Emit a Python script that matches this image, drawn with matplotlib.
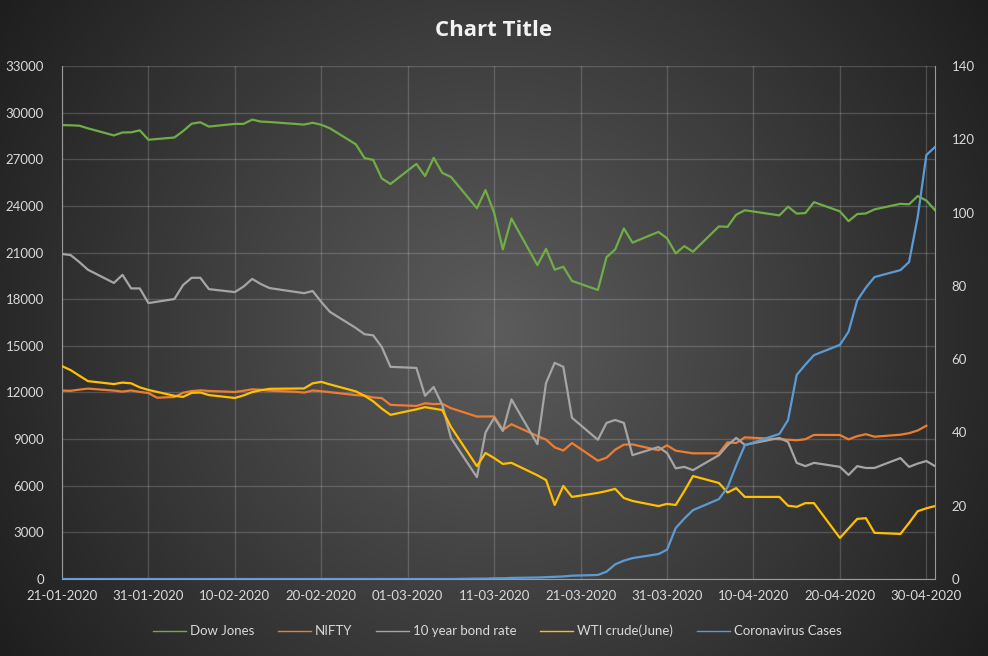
import numpy as np
import pandas as pd
import matplotlib
matplotlib.use('Agg')
import matplotlib.pyplot as plt
import matplotlib.dates as mdates
from matplotlib.colors import LinearSegmentedColormap

plt.rcParams['font.family'] = ['Lato', 'DejaVu Sans']

## US trading days (Presidents Day and Good Friday closed)
us_days = pd.bdate_range('2020-01-21', '2020-05-01')
us_days = us_days.drop(pd.to_datetime(['2020-02-17', '2020-04-10']))

dow = [29196, 29186, 29160, 28990, 28535, 28723, 28734, 28859, 28256,
       28399, 28808, 29290, 29380, 29103, 29276, 29276, 29551, 29424, 29398,
       29232, 29348, 29220, 28992, 27961, 27081, 26957, 25766, 25409,
       26703, 25917, 27091, 26121, 25864, 23851, 25018, 23553, 21200, 23185,
       20189, 21237, 19899, 20087, 19174, 18592, 20705, 21200, 22552, 21637,
       22327, 21917, 20944, 21413, 21053,
       22680, 22654, 23434, 23720, 23390, 23950, 23505, 23538, 24242,
       23650, 23019, 23475, 23516, 23775, 24134, 24102, 24634, 24346, 23724]

bond = [88.7, 88.4, 86.5, 84.4, 80.8, 83.0, 79.3, 79.3, 75.3,
        76.4, 80.2, 82.2, 82.2, 79.1, 78.3, 79.8, 81.9, 80.5, 79.4,
        78.0, 78.6, 75.6, 72.9, 68.5, 66.8, 66.5, 63.3, 57.9,
        57.6, 50.0, 52.4, 47.5, 38.5, 27.8, 40.0, 44.0, 40.4, 49.0,
        36.8, 53.5, 59.0, 57.9, 44.0, 38.0, 42.6, 43.4, 42.6, 33.8,
        36.0, 34.4, 30.2, 30.6, 29.7,
        33.8, 36.5, 38.5, 36.6, 38.5, 37.4, 31.7, 30.8, 31.7,
        30.6, 28.4, 30.8, 30.3, 30.3, 33.0, 30.6, 31.5, 32.2, 30.8]

wti = [58.1, 57.0, 55.5, 54.0, 53.2, 53.6, 53.4, 52.3, 51.6,
       50.0, 49.7, 50.8, 50.9, 50.2, 49.4, 50.1, 51.0, 51.5, 51.9,
       52.0, 53.4, 53.8, 53.1, 51.2, 50.0, 48.5, 46.5, 44.8,
       46.3, 46.9, 46.5, 46.1, 41.5, 30.8, 34.4, 33.0, 31.4, 31.7,
       28.3, 27.0, 20.2, 25.4, 22.4, 23.5, 24.0, 24.6, 22.1, 21.3,
       19.9, 20.5, 20.2, 24.0, 28.1,
       26.2, 23.6, 24.8, 22.4, 22.4, 20.0, 19.7, 20.7, 20.7,
       11.2, 13.8, 16.4, 16.6, 12.6, 12.3, 15.3, 18.5, 19.3, 19.9]

cases = [0] * 33 + [
         0.1, 0.1, 0.2, 0.2, 0.3,
         0.4, 0.5, 0.6, 0.7, 0.9, 1.1, 2.0, 4.0, 5.0, 5.7,
         6.8, 8.0, 13.9, 16.5, 18.8,
         21.8, 25.0, 31.0, 36.5, 39.6, 43.4, 55.7, 58.5, 61.1,
         63.9, 67.5, 76.0, 79.5, 82.4, 84.3, 86.5, 98.8, 115.7, 117.9]

nifty_days = pd.to_datetime([
    '2020-01-21', '2020-01-22', '2020-01-23', '2020-01-24', '2020-01-27',
    '2020-01-28', '2020-01-29', '2020-01-30', '2020-01-31', '2020-02-01',
    '2020-02-03', '2020-02-04', '2020-02-05', '2020-02-06', '2020-02-07',
    '2020-02-10', '2020-02-11', '2020-02-12', '2020-02-13', '2020-02-14',
    '2020-02-17', '2020-02-18', '2020-02-19', '2020-02-20', '2020-02-24',
    '2020-02-25', '2020-02-26', '2020-02-27', '2020-02-28', '2020-03-02',
    '2020-03-03', '2020-03-04', '2020-03-05', '2020-03-06', '2020-03-09',
    '2020-03-11', '2020-03-12', '2020-03-13', '2020-03-16', '2020-03-17',
    '2020-03-18', '2020-03-19', '2020-03-20', '2020-03-23', '2020-03-24',
    '2020-03-25', '2020-03-26', '2020-03-27', '2020-03-30', '2020-03-31',
    '2020-04-01', '2020-04-03', '2020-04-06', '2020-04-07', '2020-04-08',
    '2020-04-09', '2020-04-13', '2020-04-15', '2020-04-16', '2020-04-17',
    '2020-04-20', '2020-04-21', '2020-04-22', '2020-04-23', '2020-04-24',
    '2020-04-27', '2020-04-28', '2020-04-29', '2020-04-30'])

nifty = [12118, 12106, 12180, 12248, 12119, 12055, 12129, 12036, 11962, 11662,
         11708, 11980, 12089, 12137, 12098, 12031, 12108, 12201, 12175, 12113,
         12046, 11993, 12126, 12081, 11829, 11798, 11678, 11633, 11202, 11132,
         11304, 11252, 11270, 10989, 10451, 10458, 9591, 9955, 9197, 8967,
         8469, 8264, 8745, 7610, 7801, 8318, 8641, 8660, 8281, 8598,
         8254, 8084, 8084, 8792, 8748, 9111, 8994, 8925, 8992, 9267,
         9262, 8981, 9187, 9314, 9154, 9282, 9380, 9553, 9860]

labels = ['Dow Jones', 'NIFTY', '10 year bond rate', 'WTI crude(June)', 'Coronavirus Cases']
colors = ['#70ad47', '#ed7d31', '#a5a5a5', '#ffc000', '#5b9bd5']

W, H = 988, 656
fig = plt.figure(figsize=(W / 100, H / 100), dpi=100)

## radial gradient background
bg = fig.add_axes([0, 0, 1, 1], zorder=-5)
yy, xx = np.mgrid[0:H, 0:W]
r = np.hypot(xx - 494, yy - 328) / np.hypot(494, 328)
cmap = LinearSegmentedColormap.from_list('bg', ['#5c5c5c', '#1e1e1e'])
bg.imshow(r, cmap=cmap, vmin=0, vmax=1, aspect='auto', extent=[0, 1, 0, 1])
bg.axis('off')

ax = fig.add_axes([62 / W, 1 - 579 / H, (935 - 62) / W, (579 - 66) / H])
ax.set_facecolor('none')
ax2 = ax.twinx()
ax2.set_facecolor('none')

lw = 1.6
l1, = ax.plot(us_days, dow, color=colors[0], lw=lw)
l2, = ax.plot(nifty_days, nifty, color=colors[1], lw=lw)
l3, = ax2.plot(us_days, bond, color=colors[2], lw=lw)
l4, = ax2.plot(us_days, wti, color=colors[3], lw=lw)
l5, = ax2.plot(us_days, cases, color=colors[4], lw=lw)

ax.set_xlim(pd.Timestamp('2020-01-21'), pd.Timestamp('2020-05-01'))
ax.set_ylim(0, 33000)
ax2.set_ylim(0, 140)
ax.set_yticks(np.arange(0, 33001, 3000))
ax2.set_yticks(np.arange(0, 141, 20))
ax.set_xticks(pd.date_range('2020-01-21', '2020-04-30', freq='10D'))
ax.xaxis.set_major_formatter(mdates.DateFormatter('%d-%m-%Y'))

ax.grid(True, color='#ffffff', alpha=0.17, lw=1)
ax.set_axisbelow(True)

tc = '#d9d9d9'
ax.tick_params(axis='both', length=0, colors=tc, labelsize=9.5)
ax.tick_params(axis='y', pad=13)
ax.tick_params(axis='x', pad=8)
ax2.tick_params(axis='y', length=0, colors=tc, labelsize=9.5, pad=12)

for a in (ax, ax2):
    for s in a.spines.values():
        s.set_visible(False)
ax.spines['left'].set_visible(True)
ax.spines['left'].set_color('#9a9a9a')
ax.spines['bottom'].set_visible(True)
ax.spines['bottom'].set_color('#9a9a9a')
ax2.spines['right'].set_visible(True)
ax2.spines['right'].set_color('#9a9a9a')

fig.text(494 / W, 1 - 31 / H, 'Chart Title', ha='center', va='center',
         fontsize=16, fontweight='bold', color='#f2f2f2',
         family=['Open Sans', 'DejaVu Sans'])

leg = fig.legend([l1, l2, l3, l4, l5], labels, loc='center',
                 bbox_to_anchor=(497 / W, 1 - 631 / H), ncol=5, frameon=False,
                 fontsize=9.5, handlelength=2.5, handletextpad=0.3,
                 columnspacing=1.8, labelcolor=tc)
for h in leg.legend_handles:
    h.set_linewidth(1)

fig.savefig('out.png', dpi=100)
